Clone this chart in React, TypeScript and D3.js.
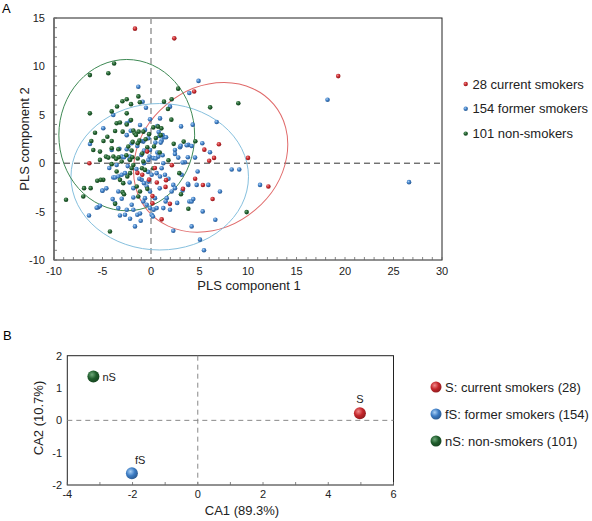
import React from "react";
import * as d3 from "d3";

// ---------- Panel A data (PLS scores) ----------
const currentSmokers: [number, number][] = [
  [-1.65, 13.9], [2.4, 12.9], [19.3, 9.0], [4.45, 7.4], [7.0, 1.95], [5.5, 1.4], [6.5, 0.55], [6.0, 0.25],
  [10.0, 0.55], [-6.35, 0.0], [2.15, -0.2], [0.4, -0.5], [-0.4, 1.2], [-1.4, -1.0], [-0.9, -1.2], [4.55, -1.6],
  [5.35, -2.25], [12.1, -2.4], [3.3, -2.65], [1.5, -2.45], [1.55, -1.75], [0.15, -3.4], [6.35, -3.7], [0.15, -4.15],
  [1.95, -4.2], [1.1, -5.8], [-0.2, -1.7], [0.6, -2.0],
];

const formerSmokers: [number, number][] = [
  [18.2, 6.56], [26.6, -1.96], [4.9, 8.5], [-1.31, 7.9], [3.95, 7.25], [6.77, 4.26], [3.1, 3.8], [4.3, 3.98], [8.32, -0.65], [9.1, -0.65],
  [11.24, -2.24], [7.11, -2.93], [6.63, -5.84], [2.3, -6.98], [5.05, -7.9], [5.46, -9.0], [4.19, -6.53], [6.08, 1.13], [-0.52, 5.73], [-0.86, 6.35],
  [1.96, 5.84], [0.93, 4.63], [0.65, 3.84], [-0.1, 4.53], [-3.89, 4.98], [-2.5, 4.12], [-4.92, 3.61], [-2.16, 4.39], [-1.13, 3.95], [-2.09, 3.36],
  [-0.27, 2.58], [-6.29, 1.99], [-4.05, 1.37], [-1.99, 2.06], [-1.41, 1.78], [-0.79, 2.23], [-0.1, 1.37], [-2.5, 1.44], [-3.02, 0.68], [-2.16, 0.68],
  [0.86, 2.81], [1.34, 2.68], [1.1, 2.33], [3.85, 1.89], [4.19, 1.78], [5.29, 2.06], [2.81, 0.58], [2.47, 1.37], [2.99, 1.65], [4.54, 0.58],
  [3.5, 0.1], [0.24, 0.52], [0.75, 0.68], [3.16, -1.2], [1.1, -0.52], [0.58, -1.03], [0.07, -1.2], [0.93, -1.38], [1.44, -1.2], [2.3, -2.24],
  [2.47, -2.58], [2.13, -2.92], [1.62, -3.61], [1.27, -4.64], [1.96, -4.81], [0.41, -3.61], [0.58, -4.64], [0.07, -5.33], [4.71, -2.24], [5.91, -2.24],
  [4.81, -0.86], [3.85, -2.24], [3.95, -3.96], [4.19, -3.96], [4.36, -3.7], [5.33, -4.98], [-3.89, -1.48], [-5.02, -2.82], [-5.43, -4.54], [-5.26, -4.4],
  [-6.39, -5.4], [-3.95, -3.71], [-3.71, -4.12], [-3.37, -4.64], [-3.2, -5.4], [-2.5, -4.81], [-1.99, -4.3], [-1.82, -4.81], [-1.41, -5.33], [-1.13, -5.2],
  [-1.65, -6.53], [-1.06, -5.95], [-2.16, -5.74], [-2.68, -5.33], [-3.37, -2.92], [-3.02, -3.68], [-1.82, -3.54], [-0.79, -3.96], [-0.62, -3.61], [-0.44, -4.3],
  [-0.1, -4.64], [-3.71, -1.48], [-3.37, -1.38], [-3.02, -1.2], [-2.68, -1.03], [-0.96, -1.72], [-0.72, -2.06], [-0.44, -2.41], [-0.27, -1.9], [-0.1, -2.93],
  [-1.82, -2.58], [-3.54, -0.18], [-0.72, 0.0], [-0.27, 0.34], [-0.62, 3.44], [0.79, 3.23], [1.2, 2.9], [1.55, 2.68], [-2.5, 2.9], [-3.26, 1.5],
  [-1.0, 2.3], [0.45, 2.13], [1.0, 2.13], [3.06, 1.79], [3.68, 1.86], [2.47, 0.96], [3.8, 0.62], [3.26, 0.07], [-2.78, 0.62], [-2.23, 0.41],
  [-1.0, 0.86], [-0.72, 1.3], [-0.14, 0.69], [0.65, 1.1], [0.48, 0.48], [1.2, 0.82], [1.27, 0.0], [-5.0, -2.85], [-5.6, -4.6], [0.2, -5.5],
  [0.27, -4.8], [1.51, -3.95], [3.8, -2.13], [3.26, -2.82], [-4.3, -0.5], [-2.4, -0.3], [-1.5, -0.6], [-0.3, -0.9], [0.9, -2.6], [-2.2, -2.0],
  [-1.2, -1.6], [1.8, -1.6], [-4.6, -2.6], [2.7, -4.1],
];

const nonSmokers: [number, number][] = [
  [-3.8, 10.3], [-4.4, 9.3], [-6.3, 9.1], [2.8, 7.7], [-2.5, 6.6], [-2.95, 6.4], [-3.5, 5.85], [-4.05, 5.35], [-1.3, 6.9], [-1.15, 6.3],
  [-2.06, 6.1], [-6.3, 5.15], [1.34, 6.36], [2.13, 6.6], [1.75, 5.6], [6.1, 5.77], [9.0, 6.2], [-2.5, 5.15], [2.1, 4.5], [-3.54, 4.12],
  [-3.2, 4.2], [-2.06, 4.46], [-2.5, 4.0], [-1.82, 3.37], [-1.68, 3.09], [-1.27, 3.26], [0.24, 3.7], [1.07, 3.6], [0.72, 3.78], [-5.77, 3.15],
  [-4.5, 2.74], [-3.7, 3.33], [-2.92, 3.26], [-0.79, 3.26], [-1.55, 2.92], [-4.9, 2.3], [-6.15, 2.3], [-4.05, 2.3], [-1.2, 2.33], [-1.89, 2.2],
  [-0.55, 2.47], [0.31, 1.72], [2.34, 2.0], [3.37, 2.23], [4.57, 2.27], [1.0, 2.9], [-5.95, 1.37], [-5.26, 1.2], [-4.05, 1.55], [-3.37, 1.44],
  [-2.34, 1.72], [-2.0, 1.3], [-1.37, 2.06], [-0.38, 1.65], [-4.64, 0.68], [-3.88, 0.69], [-3.33, 0.62], [-5.26, 0.34], [-4.4, 0.58], [-3.6, 0.45],
  [-3.02, 0.17], [-2.54, 0.82], [-2.16, 0.34], [-1.92, 0.62], [-1.37, 0.48], [-0.9, 1.0], [-0.79, 0.17], [-4.05, -0.1], [-1.82, -0.18], [-1.99, -0.52],
  [-2.16, -1.03], [-2.44, -1.38], [-3.54, -0.86], [-3.2, -1.72], [-2.86, -2.06], [-4.92, -1.72], [-5.19, -1.72], [-5.54, -1.82], [-6.9, -2.58], [-6.22, -2.58],
  [-8.76, -3.78], [-6.98, -3.44], [-4.23, -7.05], [-2.92, -2.99], [-2.78, -3.2], [-1.31, -3.44], [-1.13, -2.93], [-0.38, -2.65], [-1.47, -2.41], [-0.93, -0.52],
  [0.24, -0.52], [-0.62, -0.69], [2.92, -1.03], [3.09, -3.2], [3.85, -4.71], [9.86, -5.05], [0.5, 2.6], [-0.2, 3.0], [1.8, 0.3], [-3.7, -4.2],
  [0.9, 1.1],
];

// confidence ellipses: [cx, cy, semi-axis a, semi-axis b, rotation deg]
const ellipseCurrent = [6.15, 0.6, 8.5, 7.1, 40];
const ellipseFormer = [0.9, -1.4, 9.15, 7.55, 0];
const ellipseNon = [-2.5, 2.9, 7.0, 7.8, 0];

const legendA = ["28 current smokers", "154 former smokers", "101 non-smokers"];
const xTicksA = [-10, -5, 0, 5, 10, 15, 20, 25, 30];
const yTicksA = [-10, -5, 0, 5, 10, 15];

// ---------- Panel B data (correspondence analysis) ----------
const caNames = ["S", "fS", "nS"];
const caX = [4.97, -2.02, -3.2];
const caY = [0.22, -1.64, 1.36];
const legendB = ["S: current smokers (28)", "fS: former smokers (154)", "nS: non-smokers (101)"];
const xTicksB = [-4, -2, 0, 2, 4, 6];
const yTicksB = [-2, -1, 0, 1, 2];

const COLORS = ["#c4262b", "#3b7bc3", "#1f5d2c"];
const LIGHT = ["#f08a8a", "#a9d0f5", "#6fa97a"];
const ELLIPSE_COLORS = ["#e06a6a", "#86c0de", "#3f8a55"];
const FONT = "'Liberation Sans', Arial, Helvetica, sans-serif";

export default function App() {
  // Panel A scales
  const xA = d3.scaleLinear().domain([-10, 30]).range([54, 442]);
  const yA = d3.scaleLinear().domain([-10, 15]).range([260, 18]);
  const kA = xA(1) - xA(0);
  // Panel B scales
  const xB = d3.scaleLinear().domain([-4, 6]).range([67.3, 393.5]);
  const yB = d3.scaleLinear().domain([-2, 2]).range([485, 355.7]);

  const groups = [currentSmokers, formerSmokers, nonSmokers];
  const ellipses = [ellipseCurrent, ellipseFormer, ellipseNon];
  const drawOrder = [1, 2, 0];
  const minorXA = d3.range(-10, 31, 1);
  const minorYA = d3.range(-10, 16, 1);
  const minorXB = d3.range(-4, 7, 1);

  return (
    <svg width={592} height={521} style={{ position: "absolute", left: 0, top: 0, background: "#fff" }} fontFamily={FONT}>
      <defs>
        {COLORS.map((c, i) => (
          <radialGradient key={i} id={`g${i}`} cx="38%" cy="35%" r="65%">
            <stop offset="0%" stopColor={LIGHT[i]} />
            <stop offset="55%" stopColor={c} />
            <stop offset="100%" stopColor={d3.color(c)!.darker(0.8).toString()} />
          </radialGradient>
        ))}
        <clipPath id="clipA">
          <rect x={54} y={18} width={388} height={242} />
        </clipPath>
      </defs>

      {/* ---------------- Panel A ---------------- */}
      <text x={2} y={13} fontSize={13}>A</text>
      <rect x={54} y={18} width={388} height={242} fill="#fff" stroke="#222" strokeWidth={1} />
      <line x1={54} x2={54} y1={18} y2={260} stroke="#777" strokeWidth={2} />
      {minorXA.map((v) => (
        <line key={`mx${v}`} x1={xA(v)} x2={xA(v)} y1={260} y2={257} stroke="#666" strokeWidth={0.8} />
      ))}
      {minorYA.map((v) => (
        <line key={`my${v}`} x1={54} x2={57} y1={yA(v)} y2={yA(v)} stroke="#666" strokeWidth={0.8} />
      ))}
      <line x1={xA(0)} x2={xA(0)} y1={18} y2={260} stroke="#999" strokeWidth={1.5} strokeDasharray="6,4" />
      <line x1={54} x2={442} y1={yA(0)} y2={yA(0)} stroke="#333" strokeWidth={1} strokeDasharray="6,4" />

      <g clipPath="url(#clipA)">
        {ellipses.map((e, i) => (
          <ellipse
            key={`el${i}`}
            cx={xA(e[0])}
            cy={yA(e[1])}
            rx={e[2] * kA}
            ry={e[3] * kA}
            transform={`rotate(${-e[4]} ${xA(e[0])} ${yA(e[1])})`}
            fill="none"
            stroke={ELLIPSE_COLORS[i]}
            strokeWidth={1}
          />
        ))}
        {drawOrder.map((gi) =>
          groups[gi].map((p, j) => (
            <circle key={`p${gi}-${j}`} cx={xA(p[0])} cy={yA(p[1])} r={2.3} fill={`url(#g${gi})`} />
          ))
        )}
      </g>

      {xTicksA.map((v) => (
        <text key={`xt${v}`} x={xA(v)} y={275} fontSize={11} textAnchor="middle" fill="#222">{v}</text>
      ))}
      {yTicksA.map((v) => (
        <text key={`yt${v}`} x={45} y={yA(v) + 4} fontSize={11} textAnchor="end" fill="#222">{v}</text>
      ))}
      <text x={249} y={290} fontSize={13} textAnchor="middle" fill="#222">PLS component 1</text>
      <text transform={`translate(29,139) rotate(-90)`} fontSize={13} textAnchor="middle" fill="#222">PLS component 2</text>

      {legendA.map((t, i) => (
        <g key={`la${i}`}>
          <circle cx={465.7} cy={84 + i * 24.8} r={2.2} fill={`url(#g${i})`} />
          <text x={472.5} y={84 + i * 24.8 + 4.5} fontSize={13} fill="#222">{t}</text>
        </g>
      ))}

      {/* ---------------- Panel B ---------------- */}
      <text x={3} y={340} fontSize={13}>B</text>
      <rect x={67.3} y={355.7} width={326.2} height={129.3} fill="#fff" stroke="#222" strokeWidth={1} />
      {minorXB.map((v) => (
        <line key={`mbx${v}`} x1={xB(v)} x2={xB(v)} y1={485} y2={482} stroke="#666" strokeWidth={0.8} />
      ))}
      <line x1={xB(0)} x2={xB(0)} y1={355.7} y2={485} stroke="#888" strokeWidth={1} strokeDasharray="5,4" />
      <line x1={67.3} x2={393.5} y1={yB(0)} y2={yB(0)} stroke="#888" strokeWidth={1} strokeDasharray="5,4" />

      {caNames.map((n, i) => (
        <circle key={`ca${i}`} cx={xB(caX[i])} cy={yB(caY[i])} r={6} fill={`url(#g${i})`} />
      ))}
      <text x={xB(caX[0])} y={yB(caY[0]) - 10} fontSize={11} textAnchor="middle" fill="#222">{caNames[0]}</text>
      <text x={xB(caX[1]) + 3} y={yB(caY[1]) - 9} fontSize={11} fill="#222">{caNames[1]}</text>
      <text x={xB(caX[2]) + 9} y={yB(caY[2]) + 4.5} fontSize={11} fill="#222">{caNames[2]}</text>

      {xTicksB.map((v) => (
        <text key={`xbt${v}`} x={xB(v)} y={498} fontSize={11} textAnchor="middle" fill="#222">{v}</text>
      ))}
      {yTicksB.map((v) => (
        <text key={`ybt${v}`} x={62} y={yB(v) + 4} fontSize={11} textAnchor="end" fill="#222">{v}</text>
      ))}
      <text x={242} y={515} fontSize={13} textAnchor="middle" fill="#222">CA1 (89.3%)</text>
      <text transform={`translate(43,418) rotate(-90)`} fontSize={13} textAnchor="middle" fill="#222">CA2 (10.7%)</text>

      {legendB.map((t, i) => (
        <g key={`lb${i}`}>
          <circle cx={436} cy={387 + i * 27} r={5.5} fill={`url(#g${i})`} />
          <text x={445} y={387 + i * 27 + 4.5} fontSize={13} fill="#222">{t}</text>
        </g>
      ))}
    </svg>
  );
}
